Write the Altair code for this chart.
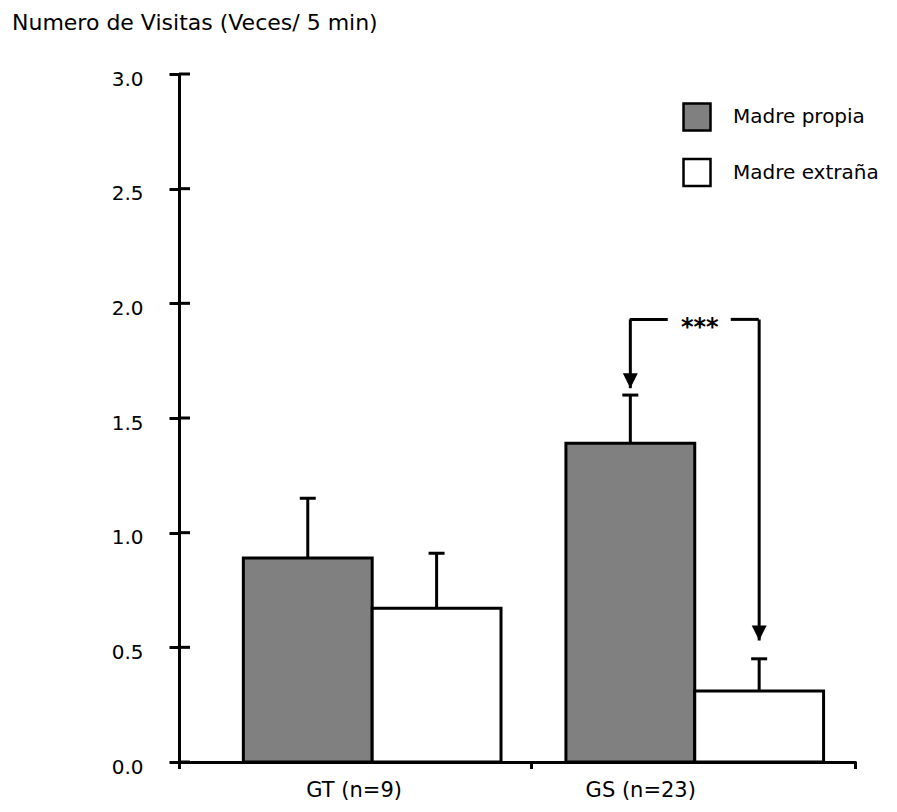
import altair as alt
import pandas as pd

# ---- data ----
groups = ["GT (n=9)", "GS (n=23)"]
series = ["Madre propia", "Madre extraña"]
mean_propia = [0.89, 1.39]
upper_propia = [1.15, 1.60]
mean_extrana = [0.67, 0.31]
upper_extrana = [0.91, 0.45]
y_ticks = [0.0, 0.5, 1.0, 1.5, 2.0, 2.5, 3.0]
colors = ["#808080", "#ffffff"]

# significance bracket (GS group)
bracket_group = "GS (n=23)"
bracket_level = 1.93
arrow_tips = [1.63, 0.53]
signif_text = "***"

title_text = "Numero de Visitas (Veces/ 5 min)"

rows = []
for i, g in enumerate(groups):
    rows.append(dict(group=g, series=series[0], mean=mean_propia[i], upper=upper_propia[i]))
    rows.append(dict(group=g, series=series[1], mean=mean_extrana[i], upper=upper_extrana[i]))
df = pd.DataFrame(rows)

bdf = pd.DataFrame({
    "group": [bracket_group, bracket_group],
    "series": series,
    "level": [bracket_level, bracket_level],
    "tip": arrow_tips,
})
sdf = pd.DataFrame({"group": [bracket_group], "level": [bracket_level], "label": [signif_text]})
tdf = pd.DataFrame({"v": y_ticks})
ttl = pd.DataFrame({"t": [title_text]})

FONT = "DejaVu Sans"
W, H = 677, 688

x_scale = alt.Scale(domain=groups, paddingInner=0.2012, paddingOuter=0.15, align=0.665)
x_axis = alt.Axis(
    title=None, ticks=False, domainColor="black", domainWidth=3,
    labelFont=FONT, labelFontSize=21, labelColor="black", labelPadding=34, labelAngle=0,
    labelBaseline="alphabetic", labelLimit=0,
    labelOffset={"condition": {"test": f"datum.value === '{groups[0]}'", "value": -18}, "value": -54},
)
y_scale = alt.Scale(domain=[0, 3], nice=False, zero=True)
y_axis = alt.Axis(
    title=None, values=y_ticks, format=".1f", grid=False,
    domainColor="black", domainWidth=3, tickColor="black", tickWidth=3, tickSize=10,
    labelFont=FONT, labelFontSize=20, labelColor="black", labelPadding=26, labelOffset=5,
)
xo = alt.XOffset("series:N", sort=series, scale=alt.Scale(domain=series, paddingInner=0, paddingOuter=0))
X = alt.X("group:N", sort=groups, scale=x_scale, axis=x_axis)

bars = alt.Chart(df).mark_bar(stroke="black", strokeWidth=3).encode(
    x=X, xOffset=xo,
    y=alt.Y("mean:Q", scale=y_scale, axis=y_axis),
    fill=alt.Fill("series:N", sort=series, scale=alt.Scale(domain=series, range=colors),
                  legend=alt.Legend(title=None, orient="none", legendX=503, legendY=28,
                                    symbolType="square", symbolSize=729, symbolStrokeColor="black",
                                    symbolStrokeWidth=2.5, symbolOpacity=1,
                                    labelFont=FONT, labelFontSize=20, labelColor="black",
                                    labelLimit=0,
                                    labelOffset=21, rowPadding=17.5, padding=0)),
)

err = alt.Chart(df).mark_rule(color="black", strokeWidth=3).encode(
    x=X, xOffset=xo,
    y=alt.Y("mean:Q", scale=y_scale, axis=y_axis), y2="upper:Q",
)
caps = alt.Chart(df).mark_tick(color="black", thickness=3, size=16, orient="horizontal", opacity=1).encode(
    x=X, xOffset=xo,
    y=alt.Y("upper:Q", scale=y_scale, axis=y_axis),
)

# inward half of the y ticks
inward = alt.Chart(tdf).mark_rule(color="black", strokeWidth=3).encode(
    y=alt.Y("v:Q", scale=y_scale, axis=y_axis), x=alt.value(0), x2=alt.value(11),
)

# small downward ticks on x axis
xt_layers = [
    alt.Chart(tdf.head(1)).mark_rule(color="black", strokeWidth=3).encode(
        x=alt.value(px), y=alt.value(H), y2=alt.value(H + 7))
    for px in [0.5, 352.5, 676.5]
]

# bracket
vlines = alt.Chart(bdf).mark_rule(color="black", strokeWidth=3).encode(
    x=X, xOffset=xo,
    y=alt.Y("level:Q", scale=y_scale, axis=y_axis), y2="tip:Q",
)
arrows = alt.Chart(bdf).mark_point(shape="M-1,-2L1,-2L0,0Z", filled=True, color="black",
                                   size=225, opacity=1, strokeWidth=0).encode(
    x=X, xOffset=xo,
    y=alt.Y("tip:Q", scale=y_scale, axis=y_axis),
)
hl = alt.Chart(sdf).mark_tick(color="black", thickness=3, size=38, orient="horizontal",
                              xOffset=-46, opacity=1).encode(
    x=X, y=alt.Y("level:Q", scale=y_scale, axis=y_axis))
hr = alt.Chart(sdf).mark_tick(color="black", thickness=3, size=28, orient="horizontal",
                              xOffset=50, opacity=1).encode(
    x=X, y=alt.Y("level:Q", scale=y_scale, axis=y_axis))
stars = alt.Chart(sdf).mark_text(font=FONT, fontSize=24, fontWeight="bold", color="black", dx=5, dy=16,
                                 baseline="alphabetic", align="center").encode(
    x=X, y=alt.Y("level:Q", scale=y_scale, axis=y_axis), text="label:N")

# y-axis title written at the top-left corner
title_mark = alt.Chart(ttl).mark_text(font=FONT, fontSize=22, color="black", align="left",
                                      baseline="alphabetic").encode(
    x=alt.value(-167), y=alt.value(-44), text="t:N")

chart = alt.layer(bars, err, caps, inward, *xt_layers, vlines, arrows, hl, hr, stars, title_mark).properties(
    width=W, height=H,
    background="white",
    autosize=alt.AutoSizeParams(type="none"),
    padding={"left": 171, "top": 66, "right": 32, "bottom": 38},
).configure_view(stroke=None, strokeWidth=0)

chart.save("out.html", embed_options={"renderer": "svg", "actions": False})
